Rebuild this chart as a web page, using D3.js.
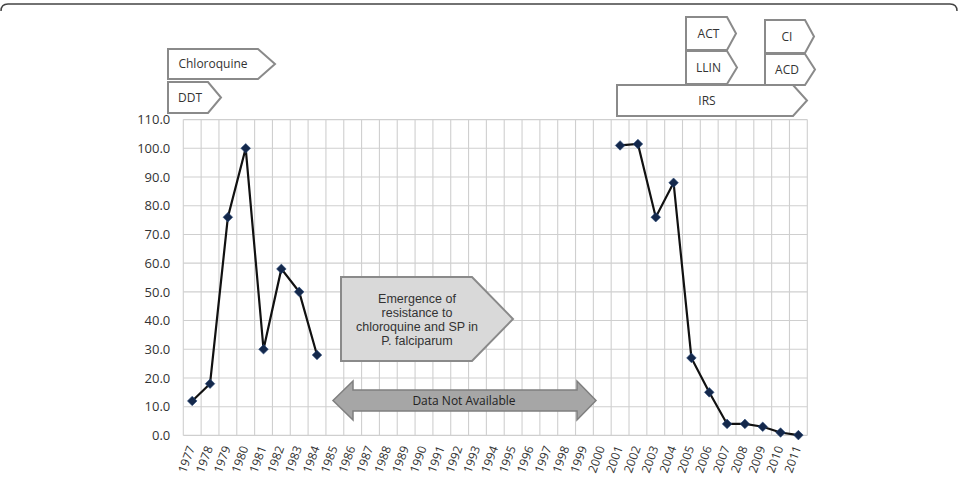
<!DOCTYPE html>
<html>
<head>
<meta charset="utf-8">
<script src="https://cdn.jsdelivr.net/npm/d3@7"></script>
<style>
  body { margin: 0; background: #fff; }
  svg { display: block; font-family: "Open Sans", "Liberation Sans", sans-serif; }
</style>
</head>
<body>
<svg id="chart" width="959" height="478"></svg>
<script>
// data
const years = d3.range(1977, 2012).map(String);
const values = [
  12, 18, 76, 100, 30, 58, 50, 28,                          // 1977-1984
  null, null, null, null, null, null, null, null,           // 1985-1992
  null, null, null, null, null, null, null, null,           // 1993-2000
  101, 101.5, 76, 88, 27, 15, 4, 4, 3, 1, 0.1               // 2001-2011
];
const yTicks = d3.range(0, 111, 10);
const tagLabels = ['Chloroquine', 'DDT', 'ACT', 'LLIN', 'CI', 'ACD', 'IRS'];
const emergenceLines = ['Emergence of', 'resistance to', 'chloroquine and SP in', 'P. falciparum'];
const gapLabel = 'Data Not Available';

// layout for the tag arrows (x0 left, x1 body end, tip, y0 top, y1 bottom)
const tagBoxes = {
  'Chloroquine': [168, 258, 275, 49, 79],
  'DDT':         [168, 208, 221, 82, 113],
  'ACT':         [686, 727, 736, 17, 50],
  'LLIN':        [686, 727, 737, 51, 84],
  'CI':          [765, 805, 814, 20, 53],
  'ACD':         [765, 805, 815, 54, 85],
  'IRS':         [617, 793, 807, 85, 116]
};

const svg = d3.select('#chart');
const L = 183.3, R = 807.3, T = 119.6, B = 435.4;

const x = d3.scaleBand().domain(years).range([L, R]).padding(0);
const y = d3.scaleLinear().domain([0, 110]).range([B, T]);
const cx = d => x(d) + x.bandwidth() / 2;

// frame at the top
svg.append('path')
  .attr('d', 'M1,11 Q1,4 8,4 H950 Q957,4 957,11')
  .attr('fill', 'none').attr('stroke', '#444').attr('stroke-width', 1.5);

// grid
const grid = svg.append('g').attr('stroke', '#cfcfcf').attr('stroke-width', 1.1);
grid.selectAll('line.h').data(yTicks).enter().append('line')
  .attr('x1', L).attr('x2', R)
  .attr('y1', d => y(d)).attr('y2', d => y(d));
grid.selectAll('line.v').data(years.concat(['end'])).enter().append('line')
  .attr('x1', d => d === 'end' ? R : x(d)).attr('x2', d => d === 'end' ? R : x(d))
  .attr('y1', T).attr('y2', B);

// y axis labels
const yAxis = svg.append('g').attr('transform', `translate(${L},0)`)
  .call(d3.axisLeft(y).tickValues(yTicks).tickFormat(d3.format('.1f')).tickSize(0).tickPadding(13));
yAxis.select('.domain').remove();
yAxis.selectAll('text').attr('font-size', 13).attr('fill', '#333').attr('font-family', '"Open Sans", sans-serif');

// x axis labels
const xAxis = svg.append('g').attr('transform', `translate(0,${B})`)
  .call(d3.axisBottom(x).tickSize(0));
xAxis.select('.domain').remove();
xAxis.selectAll('text')
  .attr('font-size', 12).attr('fill', '#333').attr('font-family', '"Open Sans", sans-serif')
  .attr('x', 0).attr('y', 0).attr('dy', '0.35em')
  .attr('text-anchor', 'end')
  .attr('transform', 'translate(-1,11) rotate(-70)');

// annotations: tag arrows
const tags = svg.append('g');
tagLabels.forEach(lbl => {
  const [x0, x1, tip, y0, y1] = tagBoxes[lbl];
  const g = tags.append('g');
  g.append('path')
    .attr('d', `M${x0},${y0} H${x1} L${tip},${(y0 + y1) / 2} L${x1},${y1} H${x0} Z`)
    .attr('fill', '#fff').attr('stroke', '#8a8a8a').attr('stroke-width', 2);
  g.append('text')
    .attr('x', lbl === 'DDT' ? x0 + 10 : (x0 + x1) / 2 + (lbl === 'Chloroquine' ? 0 : 2))
    .attr('y', (y0 + y1) / 2).attr('dy', '0.35em')
    .attr('text-anchor', lbl === 'DDT' ? 'start' : 'middle')
    .attr('font-size', 12).attr('fill', '#333')
    .text(lbl);
});

// emergence box
const eg = svg.append('g');
eg.append('path')
  .attr('d', 'M341,277 H472 L513,319 L472,361 H341 Z')
  .attr('fill', '#d9d9d9').attr('stroke', '#8a8a8a').attr('stroke-width', 2);
eg.selectAll('text').data(emergenceLines).enter().append('text')
  .attr('x', 417).attr('y', (d, i) => 299 + i * 14).attr('dy', '0.35em')
  .attr('text-anchor', 'middle').attr('font-size', 12.5).attr('fill', '#333')
  .attr('font-family', '"Liberation Sans", sans-serif')
  .text(d => d);

// data not available arrow
const ag = svg.append('g');
ag.append('path')
  .attr('d', 'M333,400.5 L353,381 V390 H577 V381 L596,400.5 L577,420 V411 H353 V420 Z')
  .attr('fill', '#a6a6a6').attr('stroke', '#7f7f7f').attr('stroke-width', 1.5);
ag.append('text')
  .attr('x', 464).attr('y', 401).attr('dy', '0.35em')
  .attr('text-anchor', 'middle').attr('font-size', 12).attr('fill', '#222')
  .text(gapLabel);

// series
const pts = years.map((yr, i) => ({ yr, v: values[i] }));
const line = d3.line().defined(d => d.v != null).x(d => cx(d.yr)).y(d => y(d.v));
svg.append('path').datum(pts)
  .attr('d', line)
  .attr('fill', 'none').attr('stroke', '#111').attr('stroke-width', 2.2);

svg.append('g').selectAll('path').data(pts.filter(d => d.v != null)).enter().append('path')
  .attr('d', 'M0,-4.8 L4.8,0 L0,4.8 L-4.8,0 Z')
  .attr('transform', d => `translate(${cx(d.yr)},${y(d.v)})`)
  .attr('fill', '#14284b').attr('stroke', '#2a4a7a').attr('stroke-width', 0.6);
</script>
</body>
</html>
